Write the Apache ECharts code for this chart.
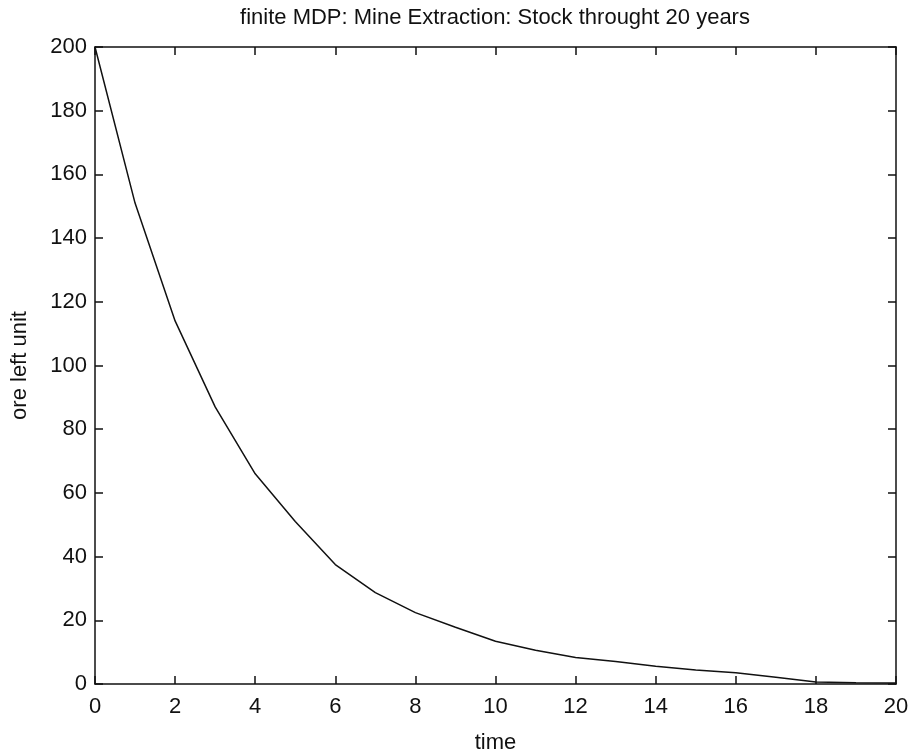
<!DOCTYPE html>
<html>
<head>
<meta charset="utf-8">
<script src="https://cdn.jsdelivr.net/npm/echarts@6/dist/echarts.min.js"></script>
<style>
  html, body { margin: 0; padding: 0; background: #fff; }
  #chart { width: 911px; height: 753px; }
</style>
</head>
<body>
<div id="chart"></div>
<script>
// years 0..20 and ore left at each year
const years = [0, 1, 2, 3, 4, 5, 6, 7, 8, 9, 10, 11, 12, 13, 14, 15, 16, 17, 18, 19, 20];
const oreLeft = [200, 151, 114, 87, 66, 51, 37.5, 28.7, 22.4, 17.8, 13.4, 10.6, 8.3, 7.1, 5.6, 4.4, 3.5, 2.1, 0.6, 0.4, 0.3];

const titleText = 'finite MDP: Mine Extraction: Stock throught 20 years';
const xName = 'time';
const yName = 'ore left unit';

const font = 'Liberation Sans, Arial, sans-serif';
const ink = '#111';

const chart = echarts.init(document.getElementById('chart'), null, { renderer: 'canvas' });

const boxAxis = {
  axisLine: { show: true, onZero: false, lineStyle: { color: ink, width: 1.5 } },
  axisTick: { show: true, inside: true, length: 8, lineStyle: { color: ink, width: 1.5 } },
  splitLine: { show: false }
};

chart.setOption({
  animation: false,
  backgroundColor: '#fff',
  title: {
    text: titleText,
    left: 490, top: 2, textAlign: 'center',
    textStyle: { fontFamily: font, fontSize: 22, fontWeight: 'normal', color: ink }
  },
  grid: { left: 95, right: 15, top: 47, bottom: 69, containLabel: false, outerBoundsMode: 'none' },
  xAxis: [
    Object.assign({}, boxAxis, {
      type: 'value', min: 0, max: 20, interval: 2, position: 'bottom',
      name: xName, nameLocation: 'middle', nameGap: 48,
      nameTextStyle: { fontFamily: font, fontSize: 22, color: ink },
      axisLabel: { fontFamily: font, fontSize: 22, color: ink, margin: 12 }
    }),
    Object.assign({}, boxAxis, {
      type: 'value', min: 0, max: 20, interval: 2, position: 'top',
      axisLabel: { show: false }
    })
  ],
  yAxis: [
    Object.assign({}, boxAxis, {
      type: 'value', min: 0, max: 200, interval: 20, position: 'left',
      name: yName, nameLocation: 'middle', nameGap: 64, nameRotate: 90,
      nameTextStyle: { fontFamily: font, fontSize: 22, color: ink },
      axisLabel: { fontFamily: font, fontSize: 22, color: ink, margin: 8 }
    }),
    Object.assign({}, boxAxis, {
      type: 'value', min: 0, max: 200, interval: 20, position: 'right',
      axisLabel: { show: false }
    })
  ],
  series: [{
    type: 'line',
    data: years.map((t, i) => [t, oreLeft[i]]),
    showSymbol: false,
    smooth: false,
    lineStyle: { color: ink, width: 1.5 }
  }]
});
</script>
</body>
</html>
